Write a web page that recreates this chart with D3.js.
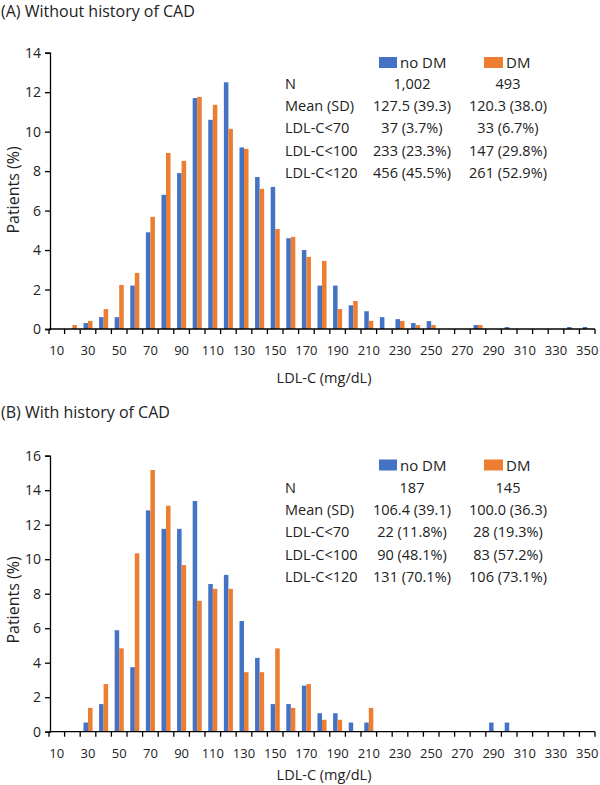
<!DOCTYPE html>
<html><head><meta charset="utf-8">
<script src="https://cdn.jsdelivr.net/npm/d3@7"></script>
<style>
html,body{margin:0;padding:0;background:#fff;}
svg text{font-family:"Open Sans",sans-serif;fill:#222;}
</style></head>
<body>
<svg id="c" width="600" height="785"></svg>
<script>
// ---- data ----
const categories = [10,20,30,40,50,60,70,80,90,100,110,120,130,140,150,160,170,180,190,200,210,220,230,240,250,260,270,280,290,300,310,320,330,340,350];
const tickLabels = [10,30,50,70,90,110,130,150,170,190,210,230,250,270,290,310,330,350];
const seriesNames = ["no DM","DM"];

const noDM_A = [0,0,0.3,0.6,0.6,2.2,4.9,6.8,7.9,11.7,10.6,12.5,9.2,7.7,7.2,4.6,4.0,2.2,2.2,1.2,0.9,0.6,0.5,0.3,0.4,0,0,0.2,0,0.1,0,0,0,0.1,0.1];
const DM_A   = [0,0.20,0.41,1.01,2.23,2.84,5.68,8.92,8.52,11.76,11.36,10.14,9.13,7.10,5.07,4.67,3.65,3.45,1.01,1.42,0.41,0,0.41,0.20,0.20,0,0,0.20,0,0,0,0,0,0,0];
const noDM_B = [0,0,0.53,1.60,5.88,3.74,12.83,11.76,11.76,13.37,8.56,9.09,6.42,4.28,1.60,1.60,2.67,1.07,1.07,0.53,0.53,0,0,0,0,0,0,0,0.53,0.53,0,0,0,0,0];
const DM_B   = [0,0,1.38,2.76,4.83,10.34,15.17,13.10,9.66,7.59,8.28,8.28,3.45,3.45,4.83,1.38,2.76,0.69,0.69,0,1.38,0,0,0,0,0,0,0,0,0,0,0,0,0,0];

const yTicksA = [0,2,4,6,8,10,12,14];
const yTicksB = [0,2,4,6,8,10,12,14,16];

const statsLabels = ["N","Mean (SD)","LDL-C<70","LDL-C<100","LDL-C<120"];
const statsA_noDM = ["1,002","127.5 (39.3)","37 (3.7%)","233 (23.3%)","456 (45.5%)"];
const statsA_DM   = ["493","120.3 (38.0)","33 (6.7%)","147 (29.8%)","261 (52.9%)"];
const statsB_noDM = ["187","106.4 (39.1)","22 (11.8%)","90 (48.1%)","131 (70.1%)"];
const statsB_DM   = ["145","100.0 (36.3)","28 (19.3%)","83 (57.2%)","106 (73.1%)"];

const titleA = "(A) Without history of CAD";
const titleB = "(B) With history of CAD";
const xTitle = "LDL-C (mg/dL)";
const yTitle = "Patients (%)";

// ---- styles ----
const colors = ["#4472C4","#ED7D31"];
const svg = d3.select("#c");

function panel(o){
  const g = svg.append("g");
  const x = d3.scaleBand().domain(categories).range([o.x0,o.x1]).paddingInner(0.42).paddingOuter(0.21);
  const xs = d3.scaleBand().domain(seriesNames).range([0,x.bandwidth()]);
  const y = d3.scaleLinear().domain([0,o.ymax]).range([o.yb,o.yt]);
  const step = x.step();

  // title
  g.append("text").attr("x",1).attr("y",o.titleY).attr("font-size",16).text(o.title);

  // bars
  [o.s1,o.s2].forEach((arr,si)=>{
    g.append("g").selectAll("rect").data(categories.map((c,i)=>({c,v:arr[i]})).filter(d=>d.v>0))
      .join("rect")
      .attr("x",d=>x(d.c)+xs(seriesNames[si]))
      .attr("width",xs.bandwidth())
      .attr("y",d=>y(d.v))
      .attr("height",d=>y(0)-y(d.v))
      .attr("fill",colors[si]);
  });

  // y axis
  const ya = g.append("g").attr("transform",`translate(${o.x0+1},0)`)
    .call(d3.axisLeft(y).tickValues(o.yTicks).tickSize(5).tickPadding(4).tickFormat(d3.format("d")));
  ya.select(".domain").attr("stroke","#000").attr("stroke-width",1.3);
  ya.selectAll(".tick line").attr("stroke","#000").attr("stroke-width",1.3);
  ya.selectAll("text").attr("font-size",14).style("font-family","Open Sans").style("fill","#222");

  // x axis (ticks at category boundaries)
  const xa = g.append("g").attr("transform",`translate(0,${o.yb})`);
  xa.append("line").attr("x1",o.x0).attr("x2",o.x1).attr("stroke","#000").attr("stroke-width",1.3);
  const bounds = categories.map(c=>x(c)-step*0.21).concat([o.x1]);
  xa.selectAll("line.t").data(bounds).join("line").attr("class","t")
    .attr("x1",d=>d).attr("x2",d=>d).attr("y1",0).attr("y2",5)
    .attr("stroke","#000").attr("stroke-width",1.3);
  xa.selectAll("text").data(tickLabels).join("text")
    .attr("x",d=>x(d)+x.bandwidth()/2).attr("y",o.labelDy)
    .attr("text-anchor","middle").attr("font-size",13).text(d=>d);

  g.append("text").attr("x",324).attr("y",o.xTitleY).attr("text-anchor","middle").attr("font-size",14.5).text(xTitle);
  g.append("text").attr("transform",`translate(19,${o.yTitleC}) rotate(-90)`).attr("text-anchor","middle").attr("font-size",16).text(yTitle);

  // legend
  const lg = g.append("g");
  lg.append("rect").attr("x",379).attr("y",o.legY).attr("width",18).attr("height",11).attr("fill",colors[0]);
  lg.append("text").attr("x",400).attr("y",o.legY+11).attr("font-size",15).text(seriesNames[0]);
  lg.append("rect").attr("x",484).attr("y",o.legY).attr("width",19).attr("height",11).attr("fill",colors[1]);
  lg.append("text").attr("x",506).attr("y",o.legY+11).attr("font-size",15).text(seriesNames[1]);

  // stats table
  const rows = statsLabels.map((l,i)=>({l,a:o.c1[i],b:o.c2[i]}));
  const tg = g.append("g");
  rows.forEach((r,i)=>{
    const yy = o.rowY + i*o.rowH;
    tg.append("text").attr("x",285).attr("y",yy).attr("font-size",14.5).text(r.l);
    tg.append("text").attr("x",412).attr("y",yy).attr("text-anchor","middle").attr("font-size",14.5).text(r.a);
    tg.append("text").attr("x",508).attr("y",yy).attr("text-anchor","middle").attr("font-size",14.5).text(r.b);
  });
}

panel({title:titleA,titleY:17,x0:49,x1:595,yb:329,yt:52.7,ymax:14,yTicks:yTicksA,
  s1:noDM_A,s2:DM_A,labelDy:26,xTitleY:383,yTitleC:190,legY:57,rowY:88.5,rowH:22.4,
  c1:statsA_noDM,c2:statsA_DM});
panel({title:titleB,titleY:418,x0:49,x1:595,yb:731.7,yt:455.7,ymax:16,yTicks:yTicksB,
  s1:noDM_B,s2:DM_B,labelDy:26,xTitleY:780,yTitleC:600,legY:459.5,rowY:492.5,rowH:22.4,
  c1:statsB_noDM,c2:statsB_DM});
</script>
</body></html>
